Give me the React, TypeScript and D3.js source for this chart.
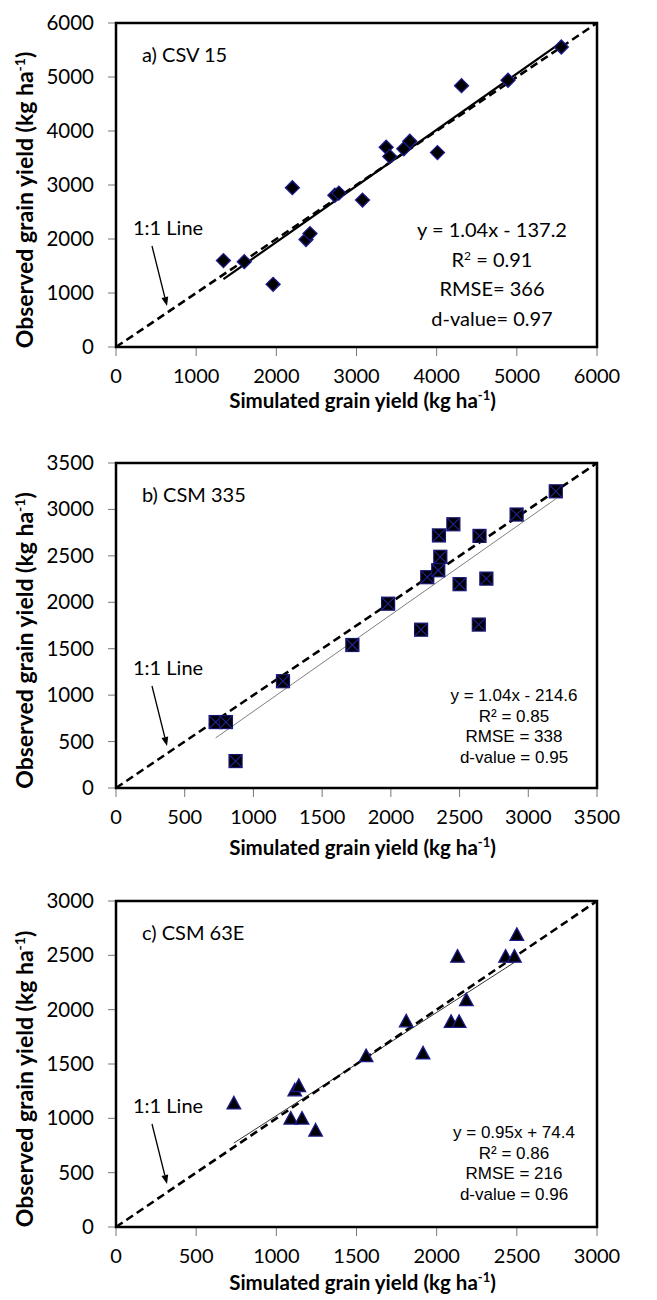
import React from "react";
import * as d3 from "d3";

// ---------- data ----------
const csv15Sim = [1340, 1600, 1960, 2200, 2370, 2420, 2730, 2780, 3075, 3370, 3415, 3590, 3665, 4010, 4310, 4890, 5555];
const csv15Obs = [1600, 1580, 1160, 2950, 1990, 2100, 2810, 2850, 2720, 3700, 3530, 3670, 3810, 3600, 4840, 4940, 5555];

const csm335Sim = [725, 800, 870, 1215, 1720, 1980, 2220, 2265, 2345, 2360, 2350, 2455, 2500, 2640, 2645, 2695, 2915, 3200];
const csm335Obs = [710, 710, 290, 1150, 1540, 1985, 1705, 2270, 2345, 2490, 2720, 2840, 2195, 1760, 2715, 2255, 2945, 3195];

const csm63eSim = [735, 1090, 1160, 1245, 1115, 1140, 1560, 1810, 1915, 2090, 2140, 2185, 2130, 2430, 2485, 2500];
const csm63eObs = [1140, 1000, 1000, 890, 1260, 1300, 1575, 1895, 1600, 1890, 1890, 2090, 2490, 2490, 2490, 2690];

const panelTitles = ["a) CSV 15", "b) CSM 335", "c) CSM 63E"];
const axisMax = [6000, 3500, 3000];
const tickSteps = [1000, 500, 500];
const slopes = [1.04, 1.04, 0.95];
const intercepts = [-137.2, -214.6, 74.4];
const statLines = [
  ["y = 1.04x - 137.2", "R2 = 0.91", "RMSE= 366", "d-value= 0.97"],
  ["y = 1.04x - 214.6", "R² = 0.85", "RMSE = 338", "d-value = 0.95"],
  ["y = 0.95x + 74.4", "R² = 0.86", "RMSE = 216", "d-value = 0.96"],
];
const xTitle = "Simulated grain yield (kg ha";
const yTitle = "Observed grain yield (kg ha";
const oneToOneLabel = "1:1 Line";

// ---------- layout ----------
const W = 657;
const H = 1300;
const left = 116;
const right = 597;
const panels = [
  { top: 23, bottom: 347, sim: csv15Sim, obs: csv15Obs, marker: "diamond", regStyle: { stroke: "#000", width: 2.2 }, statFont: "Lato, sans-serif", statSize: 20, statGap: 29.7, statX: 492, statY: 214, xTitleGap: 61 },
  { top: 463, bottom: 788, sim: csm335Sim, obs: csm335Obs, marker: "squareX", regStyle: { stroke: "#808080", width: 1 }, statFont: "'Liberation Sans', Arial, sans-serif", statSize: 17, statGap: 20.6, statX: 514, statY: 238, xTitleGap: 67 },
  { top: 901, bottom: 1227, sim: csm63eSim, obs: csm63eObs, marker: "triangle", regStyle: { stroke: "#333", width: 1 }, statFont: "'Liberation Sans', Arial, sans-serif", statSize: 17, statGap: 20.6, statX: 514, statY: 237, xTitleGap: 63 },
];

const FONT = "Lato, 'Open Sans', sans-serif";

function Marker({ kind, x, y }: { kind: string; x: number; y: number }) {
  if (kind === "diamond") {
    const r = 7;
    return (
      <path d={`M${x},${y - r}L${x + r},${y}L${x},${y + r}L${x - r},${y}Z`} fill="#000" stroke="#1a1a8a" strokeWidth={1.3} />
    );
  }
  if (kind === "squareX") {
    const r = 6.5;
    return (
      <g>
        <rect x={x - r} y={y - r} width={2 * r} height={2 * r} fill="#000" stroke="#14146e" strokeWidth={1.2} />
        <path d={`M${x - r},${y - r}L${x + r},${y + r}M${x + r},${y - r}L${x - r},${y + r}`} stroke="#22229a" strokeWidth={1.1} />
      </g>
    );
  }
  const r = 6.8;
  return (
    <path d={`M${x},${y - r}L${x + r},${y + r * 0.85}L${x - r},${y + r * 0.85}Z`} fill="#000" stroke="#1a1a8a" strokeWidth={1.3} />
  );
}

function Panel({ i }: { i: number }) {
  const p = panels[i];
  const max = axisMax[i];
  const step = tickSteps[i];
  const x = d3.scaleLinear().domain([0, max]).range([left, right]);
  const y = d3.scaleLinear().domain([0, max]).range([p.bottom, p.top]);
  const ticks = d3.range(0, max + 1, step);
  const line = d3.line<[number, number]>().x((d) => x(d[0])).y((d) => y(d[1]));
  const xMin = d3.min(p.sim) as number;
  const xMax = d3.max(p.sim) as number;
  const reg: [number, number][] = [
    [xMin, slopes[i] * xMin + intercepts[i]],
    [xMax, slopes[i] * xMax + intercepts[i]],
  ];
  const diag: [number, number][] = [
    [0, 0],
    [max, max],
  ];
  const midY = (p.top + p.bottom) / 2;
  const arrowStart = [152, p.top + 223];
  const arrowEnd = [167, p.top + 283];
  const ang = Math.atan2(arrowEnd[1] - arrowStart[1], arrowEnd[0] - arrowStart[0]);
  const ah = 9;
  const aw = 3.5;
  const bx = arrowEnd[0] - ah * Math.cos(ang);
  const by = arrowEnd[1] - ah * Math.sin(ang);
  const head = `M${arrowEnd[0]},${arrowEnd[1]}L${bx + aw * Math.sin(ang)},${by - aw * Math.cos(ang)}L${bx - aw * Math.sin(ang)},${by + aw * Math.cos(ang)}Z`;

  return (
    <g>
      {/* ticks */}
      {ticks.map((t) => (
        <g key={"yt" + t}>
          <line x1={left - 8} x2={left} y1={y(t)} y2={y(t)} stroke="#777" strokeWidth={1} />
          <text x={94} y={y(t) + 7} textAnchor="end" fontFamily={FONT} fontSize={20.5} fill="#000">
            {t}
          </text>
        </g>
      ))}
      {ticks.map((t) => (
        <g key={"xt" + t}>
          <line x1={x(t)} x2={x(t)} y1={p.bottom} y2={p.bottom + 9} stroke="#777" strokeWidth={1} />
          <text x={x(t)} y={p.bottom + 36} textAnchor="middle" fontFamily={FONT} fontSize={20} fill="#000">
            {t}
          </text>
        </g>
      ))}
      {/* regression line */}
      <path d={line(reg) as string} fill="none" stroke={p.regStyle.stroke} strokeWidth={p.regStyle.width} />
      {/* 1:1 line */}
      <path d={line(diag) as string} fill="none" stroke="#000" strokeWidth={2.6} strokeDasharray="8,4.5" />
      {/* markers */}
      {p.sim.map((s, k) => (
        <Marker key={k} kind={p.marker} x={x(s)} y={y(p.obs[k])} />
      ))}
      {/* frame */}
      <rect x={left} y={p.top} width={right - left} height={p.bottom - p.top} fill="none" stroke="#000" strokeWidth={2.5} />
      {/* panel title */}
      <text x={142} y={p.top + 39} fontFamily={FONT} fontSize={20} fill="#000">
        {panelTitles[i]}
      </text>
      {/* 1:1 label and arrow */}
      <text x={133} y={p.top + 212} fontFamily={FONT} fontSize={20} fill="#000">
        {oneToOneLabel}
      </text>
      <line x1={arrowStart[0]} y1={arrowStart[1]} x2={bx} y2={by} stroke="#000" strokeWidth={1.3} />
      <path d={head} fill="#000" />
      {/* stats */}
      {statLines[i].map((s, k) => (
        <text
          key={k}
          x={p.statX}
          y={p.top + p.statY + k * p.statGap}
          textAnchor="middle"
          fontFamily={p.statFont}
          fontSize={p.statSize}
          fill="#000"
        >
          {i === 0 && k === 1 ? (
            <>
              R<tspan dy={-7} fontSize={12}>2</tspan>
              <tspan dy={7}> = 0.91</tspan>
            </>
          ) : (
            s
          )}
        </text>
      ))}
      {/* axis titles */}
      <text x={(left + right) / 2 + 6} y={p.bottom + p.xTitleGap} textAnchor="middle" fontFamily={FONT} fontWeight={700} fontSize={20.5} fill="#000">
        {xTitle}
        <tspan dy={-8} fontSize={13}>-1</tspan>
        <tspan dy={8}>)</tspan>
      </text>
      <text
        transform={`translate(33,${midY + 15}) rotate(-90)`}
        textAnchor="middle"
        fontFamily={FONT}
        fontWeight={700}
        fontSize={23}
        fill="#000"
      >
        {yTitle}
        <tspan dy={-8} fontSize={14}>-1</tspan>
        <tspan dy={8}>)</tspan>
      </text>
    </g>
  );
}

export default function App() {
  return (
    <svg width={W} height={H} style={{ position: "absolute", left: 0, top: 0, background: "#fff" }}>
      <rect width={W} height={H} fill="#fff" />
      {panels.map((_, i) => (
        <Panel key={i} i={i} />
      ))}
    </svg>
  );
}
